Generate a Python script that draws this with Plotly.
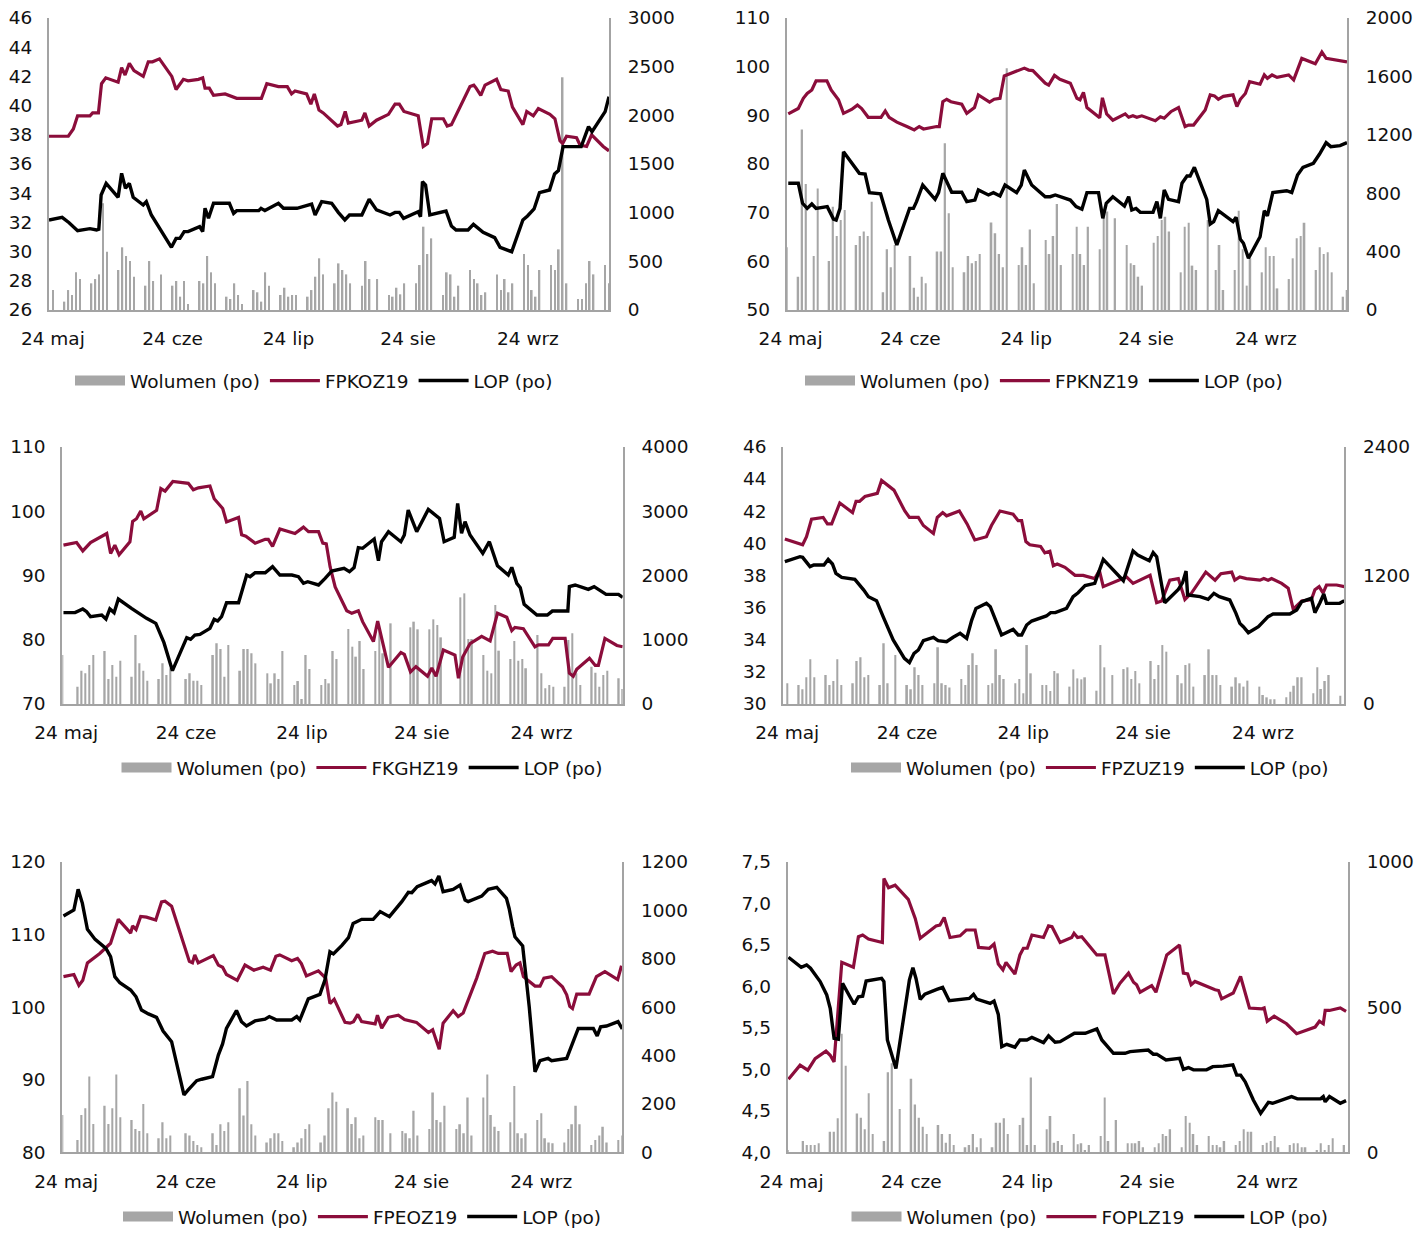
import pandas as pd
import plotly.graph_objects as go

# ---------------- DATA ----------------
# x values are days counted from 23 May 2019
BASE_DATE = pd.Timestamp("2019-05-23")
X_RANGE = ["2019-05-23", "2019-10-15"]
TICK_DATES = ["2019-05-24", "2019-06-24", "2019-07-24", "2019-08-24", "2019-09-24"]
TICK_TEXT = ["24 maj", "24 cze", "24 lip", "24 sie", "24 wrz"]
VOLUME_NAME = "Wolumen (po)"
LOP_NAME = "LOP (po)"

# ---- FPKOZ19 ----
fpkoz19 = [(0,37.9),(5,37.9),(6.3,38.4),(7.4,39.3),(10.6,39.3),(11.3,39.5),(12.8,39.5),(13.6,41.5),(14.7,41.9),(17.9,41.6),(18.8,42.6),(19.7,42.1),(20.8,42.9),(22,42.4),(24.4,42.0),(25.7,43.0),(26.8,43.0),(28.6,43.2),(31.8,42.0),(32.9,41.1),(34.8,41.8),(36,41.7),(38.7,41.8),(39.8,41.9),(40.4,41.2),(41.5,41.2),(42.6,40.7),(45.6,40.8),(48.6,40.5),(55,40.5),(56.4,41.5),(59.4,41.3),(61.7,41.3),(62.8,40.8),(63.7,41.0),(66.7,40.8),(67.8,40.1),(68.7,40.8),(69.9,39.7),(71,39.5),(74.7,38.6),(75.6,38.7),(76.7,39.6),(77.5,38.8),(81,39.0),(81.8,39.5),(82.9,38.6),(84.8,39.0),(87.9,39.4),(89.6,40.1),(90.7,40.1),(91.9,39.6),(95.6,39.3),(96.9,37.2),(98,37.4),(99.1,39.1),(102.1,39.1),(103.1,38.6),(104.2,38.7),(109,41.3),(110,41.4),(110.6,41.2),(111.8,40.7),(112.9,41.4),(115.9,41.8),(117,41.1),(118.9,41.0),(120,39.9),(122.7,38.7),(123.7,39.6),(125.4,39.3),(126.7,39.8),(129.7,39.4),(131,39.1),(132.3,37.6),(133,37.4),(134,37.9),(136.6,37.8),(137.5,37.3),(139.2,37.2),(140.5,38.0),(143.5,37.2),(145,36.9)]
lop_fpkoz19 = [(0,925),(3.4,952),(5.2,897),(7.4,815),(10.6,836),(12.3,822),(12.9,830),(13.5,1182),(14.8,1301),(17.9,1158),(18.8,1404),(19.8,1250),(20.8,1301),(21.8,1158),(24.4,1079),(25.2,1113),(26.5,976),(31.7,644),(32.9,736),(33.9,736),(35,805),(36,805),(39,856),(39.8,805),(40.4,1045),(41.3,942),(42.6,1096),(46.7,1096),(47.8,993),(48.6,1021),(54.3,1021),(54.9,1045),(55.9,1021),(59.4,1096),(60.7,1045),(64.2,1045),(68,1089),(68.9,976),(70.6,1113),(73.2,1096),(74.9,1003),(76.6,925),(77.8,976),(81,976),(82.9,1137),(84.8,1028),(88.3,976),(89.6,1003),(90.7,1003),(91.8,942),(95.6,1010),(96.2,959),(96.7,1319),(97.5,1284),(98.6,976),(102.8,1017),(104.2,863),(105.4,822),(108.5,822),(109.9,880),(112.4,798),(115.4,743),(116.8,644),(119.8,599),(122.7,925),(123.9,966),(125.6,1038),(127,1206),(129.6,1233),(130.9,1397),(131.9,1432),(133.1,1678),(137.8,1678),(139.7,1884),(140.6,1832),(144,2038),(145,2192)]
vol_fpkoz19 = [(1,205),(4,86),(5,205),(6,154),(7,387),(8,318),(11,274),(12,318),(13,366),(14,1096),(15,599),(18,411),(19,644),(20,555),(21,503),(22,342),(25,250),(26,503),(27,298),(29,366),(32,250),(33,298),(34,137),(35,298),(36,62),(39,298),(40,274),(41,555),(42,387),(43,274),(46,137),(47,113),(48,274),(49,154),(50,62),(53,205),(54,182),(55,86),(56,387),(57,250),(60,154),(61,229),(62,137),(63,154),(64,154),(67,137),(68,205),(69,342),(70,531),(71,366),(74,274),(75,479),(76,411),(77,366),(78,274),(81,250),(82,503),(83,318),(85,318),(88,154),(89,137),(90,229),(91,161),(92,274),(95,274),(96,462),(97,856),(98,575),(99,736),(102,154),(103,387),(104,366),(105,137),(106,250),(109,411),(110,318),(111,274),(112,154),(113,182),(116,366),(117,205),(118,318),(119,182),(120,274),(123,575),(124,462),(125,205),(126,137),(127,411),(130,462),(131,411),(132,623),(133,2391),(134,274),(137,113),(138,113),(139,274),(140,503),(141,366),(144,462),(145,274)]

# ---- FPKNZ19 ----
fpknz19 = [(0.4,90.3),(3,91.4),(4.3,93.5),(5.3,94.5),(6.5,95.2),(7.6,97.1),(10.4,97.1),(11.5,95.2),(13.4,93.2),(14.7,90.4),(16.8,91.2),(18.3,92.1),(19.4,91.4),(21.1,89.6),(24.4,89.6),(25.5,90.9),(26.5,89.6),(28.5,88.6),(31.1,87.7),(33,87.0),(34.3,87.7),(35.4,87.2),(38.8,87.7),(39.5,87.7),(40.4,92.8),(41.4,93.3),(42.5,92.8),(45.3,92.3),(46.6,90.4),(48.6,91.6),(49.6,94.2),(52.5,92.7),(53.7,93.3),(55.2,93.5),(56.3,98.1),(57.6,98.5),(59.5,99.2),(61.5,99.7),(62.6,99.3),(63.7,99.2),(66.9,96.6),(67.8,96.2),(69.3,98.2),(70.7,97.4),(73.4,96.6),(75.1,93.5),(75.9,93.2),(76.8,94.7),(77.7,91.6),(81,89.5),(81.7,93.6),(82.8,90.3),(84.4,89.0),(87.6,90.3),(88.5,89.6),(89.6,89.9),(90.6,89.6),(91.9,89.9),(95.4,88.9),(96.7,89.7),(97.7,89.4),(99.5,90.8),(101.4,91.6),(103.1,87.7),(104,88.0),(105.3,88.0),(108.3,91.1),(109.6,94.2),(110.7,94.0),(111.7,93.3),(113,93.9),(115.5,94.2),(116.5,91.8),(117.4,93.3),(118.7,94.5),(119.8,96.9),(122.5,96.4),(123.6,98.3),(124.4,97.6),(125.6,98.3),(126.9,97.8),(129.9,98.3),(131.2,97.3),(133.3,101.7),(136.8,100.6),(138.5,103.0),(139.6,101.7),(145,101.0)]
lop_fpknz19 = [(0.4,868),(3,868),(4.1,731),(5.3,696),(6.5,726),(7.6,696),(10.5,708),(12.1,623),(12.8,616),(13.8,696),(14.7,1084),(16.8,1004),(17.9,970),(18.8,936),(20.3,931),(21.4,804),(24.3,795),(25.5,680),(26.3,616),(28.5,445),(31.8,696),(32.8,696),(33.6,742),(35.2,856),(38.4,758),(39.3,804),(40.4,936),(42.7,806),(45.3,806),(46.6,742),(48.7,753),(49.6,822),(52.2,788),(53.5,804),(55.2,781),(56.5,856),(59.5,804),(60.7,856),(61.5,959),(63.4,856),(66.9,776),(68.2,776),(69.5,788),(73.4,753),(74.9,708),(76.4,690),(77.7,804),(80.7,804),(81.8,628),(82.7,731),(84.4,776),(87.4,712),(88.5,776),(89.3,685),(90.4,696),(91.5,669),(94.8,669),(95.8,742),(96.7,628),(97.7,822),(98.8,758),(101.4,742),(102.3,868),(103.6,918),(104.4,918),(105.5,977),(108.7,758),(109.6,589),(110.5,605),(111.7,680),(113.9,635),(115.5,605),(116.3,635),(117.4,484),(118.2,457),(119.5,354),(122.5,502),(123.6,680),(124.4,644),(125.8,804),(129.4,817),(130.7,804),(132.2,925),(133.6,977),(136.3,1005),(137.9,1068),(139.6,1146),(140.8,1119),(143.2,1126),(145,1146)]
vol_fpknz19 = [(0,429),(3,228),(4,1237),(5,863),(7,370),(8,833),(11,336),(12,708),(13,507),(14,616),(15,685),(18,445),(19,507),(20,537),(21,507),(22,742),(25,121),(26,416),(27,292),(28,445),(32,370),(33,153),(34,91),(35,228),(36,183),(39,400),(40,400),(41,1142),(42,662),(43,292),(46,258),(47,370),(48,320),(49,336),(50,384),(53,600),(54,525),(55,384),(56,292),(57,1655),(60,308),(61,429),(62,308),(63,552),(64,183),(67,479),(68,384),(69,507),(70,726),(71,308),(74,384),(75,571),(76,384),(77,308),(78,571),(81,416),(82,674),(83,674),(85,628),(88,445),(89,320),(90,308),(91,228),(92,167),(95,461),(96,507),(97,616),(98,639),(99,537),(102,258),(103,571),(104,598),(105,304),(106,274),(109,616),(111,274),(112,445),(113,137),(116,274),(117,680),(118,416),(119,167),(120,354),(123,258),(124,429),(125,370),(126,370),(127,148),(130,212),(131,354),(132,491),(133,507),(134,598),(137,274),(138,429),(139,384),(140,395),(141,258),(144,91),(145,137)]

# ---- FKGHZ19 ----
fkghz19 = [(0.3,94.7),(3.7,95.1),(5.3,93.8),(7.3,95.1),(11.5,96.5),(12.5,93.4),(13.6,94.7),(14.7,93.2),(17.5,95.2),(18.2,98.4),(19.2,98.8),(20.3,100.0),(21.1,98.8),(24.4,100.1),(25.5,103.5),(26.6,103.1),(28.6,104.6),(32.6,104.3),(33.9,103.3),(35.2,103.6),(38.2,103.9),(39.3,101.9),(41.5,100.4),(42.5,98.3),(45.6,99.0),(46.4,96.3),(47.5,96.1),(49.9,95.0),(52.5,95.6),(53.3,95.6),(54.4,94.5),(56.3,97.2),(60.2,96.5),(62.4,97.5),(63.7,96.8),(66.3,96.8),(67.4,95.0),(68.3,94.9),(69.3,91.3),(70.6,88.2),(73.6,84.5),(74.9,84.1),(76.6,84.5),(77.7,82.8),(80.5,79.7),(81.6,82.9),(84.4,75.7),(87.6,78.0),(88.5,77.7),(90.1,75.0),(91.5,75.8),(94.5,74.3),(95.6,75.6),(96.7,74.3),(98.6,78.4),(101.6,77.6),(102.5,74.0),(103.6,77.3),(105.5,79.4),(108.5,80.5),(110.7,79.8),(112.6,84.1),(115,83.5),(116.3,81.4),(117.1,81.9),(119.3,81.7),(122.3,78.9),(123.2,79.2),(125.8,79.2),(126.9,80.2),(130.1,80.2),(131.2,74.8),(132.2,74.3),(133.1,75.4),(136.4,77.1),(137.9,76.0),(138.7,76.0),(140.4,80.2),(143.5,79.1),(145,78.9)]
lop_fkghz19 = [(0.3,1420),(3.3,1420),(5.3,1477),(6.3,1435),(7.3,1357),(10.2,1383),(11.3,1321),(12.3,1477),(13.4,1420),(14.5,1632),(17.9,1487),(20.1,1399),(21.8,1332),(24.2,1254),(26.3,953),(28.5,518),(30.5,788),(32.2,1031),(33.2,1005),(34.3,1072),(35.6,1083),(38.2,1176),(39.3,1316),(40.2,1290),(41.2,1357),(42.5,1575),(45.6,1575),(47.7,2005),(48.6,1979),(49.9,2041),(52.5,2041),(54.4,2135),(56.3,2005),(59.4,2005),(61.1,1979),(62.4,1876),(63.5,1901),(66.3,1850),(68,1953),(69.7,2067),(72.9,2109),(74.3,2057),(75.5,2120),(76.6,2430),(77.7,2420),(80.7,2565),(81.8,2228),(82.6,2523),(84.4,2679),(87.6,2523),(88.5,2627),(89.5,3015),(91.7,2679),(94.7,3026),(97.6,2886),(98.8,2523),(101.4,2591),(102.3,3119),(103.3,2653),(104.2,2834),(105.5,2627),(108.8,2342),(110.5,2523),(112.6,2150),(115.4,2005),(116.3,2124),(117.6,1876),(118.5,1808),(119.5,1549),(122.8,1383),(125.5,1383),(126.8,1445),(130.8,1445),(131.2,1824),(132.7,1850),(136.1,1782),(137.6,1824),(139.1,1772),(140.7,1705),(143.9,1705),(145,1658)]
vol_fkghz19 = [(0,762),(4,269),(5,518),(6,477),(7,606),(8,762),(11,824),(12,389),(13,606),(14,425),(15,674),(18,425),(19,1072),(20,632),(21,518),(22,363),(25,389),(26,632),(27,451),(28,554),(32,389),(33,477),(34,363),(35,363),(36,295),(39,762),(40,943),(41,855),(42,425),(43,917),(46,518),(47,855),(48,855),(49,788),(50,632),(53,477),(54,321),(55,477),(56,389),(57,824),(60,295),(61,357),(62,78),(63,762),(64,544),(67,295),(68,389),(69,321),(70,824),(71,699),(74,1166),(75,891),(76,736),(77,979),(78,544),(81,824),(82,1166),(83,788),(85,1254),(90,1192),(91,1280),(92,1161),(95,1161),(96,1316),(97,1228),(98,1036),(103,1658),(104,1720),(105,1010),(106,1010),(109,762),(110,518),(111,477),(112,1539),(113,829),(116,699),(117,979),(118,674),(119,699),(120,554),(123,1072),(124,477),(125,243),(126,295),(127,269),(130,269),(131,995),(132,1098),(133,477),(134,295),(137,580),(138,487),(139,269),(140,451),(141,518),(144,399),(145,233)]

# ---- FPZUZ19 ----
fpzuz19 = [(0.4,40.26),(5,39.9),(6,40.4),(7.3,41.5),(10.3,41.6),(11.4,41.2),(12.5,41.2),(14.6,42.5),(17.9,41.9),(18.8,42.6),(19.7,42.6),(21.1,42.9),(24.3,43.1),(25.4,43.9),(28.6,43.3),(31.4,42.0),(32.6,41.6),(34.9,41.6),(36.2,41.1),(38.8,40.6),(39.8,41.6),(41.2,41.9),(42.2,41.7),(45.5,42.0),(47.5,41.2),(49.5,40.2),(52.5,40.4),(53.8,41.1),(56,42.0),(59.4,41.8),(60.7,41.4),(61.6,41.4),(62.7,40.1),(63.7,39.9),(66.5,39.8),(67.6,39.4),(68.9,39.5),(69.8,38.6),(70.8,38.7),(72.8,38.5),(75.4,38.0),(77.5,38.0),(80.5,37.8),(81.7,38.3),(82.7,37.3),(87,37.7),(88.7,37.9),(90.4,37.5),(94.8,38.0),(96.5,36.3),(97.8,36.4),(99.9,37.7),(102.1,37.8),(103.8,36.5),(105.5,36.9),(109.2,38.2),(111.6,37.7),(113.1,38.1),(115.9,38.2),(116.7,37.7),(118,37.9),(119.7,37.8),(123.2,37.7),(124.2,37.8),(125.3,37.7),(126.2,37.8),(128.8,37.5),(130.5,37.2),(131.8,35.9),(134,36.4),(136.5,36.5),(137.4,37.1),(138.5,37.3),(139.5,36.9),(140.4,37.4),(143,37.4),(145,37.3)]
lop_fpzuz19 = [(0.4,1328),(4.3,1374),(5,1368),(6.9,1281),(7.9,1297),(10.5,1297),(11.6,1349),(12.7,1306),(13.6,1219),(15.1,1181),(18.5,1163),(19.8,1110),(20.8,1063),(22,1001),(24.1,964),(25.8,815),(28.4,597),(31.3,426),(32.6,386),(33.8,473),(34.9,504),(36.2,591),(38.8,622),(40,591),(42.2,581),(43.9,622),(45.7,659),(47.4,612),(48.7,783),(49.8,892),(52.5,939),(53.5,908),(55.1,752),(56.4,644),(59.4,696),(60.7,644),(61.6,644),(62.9,737),(64.2,774),(67.2,808),(68,821),(69.1,852),(70.3,852),(73.2,892),(74.9,1001),(76.2,1038),(78,1104),(80.5,1125),(82.7,1349),(87.9,1150),(90.4,1427),(91.6,1390),(94.6,1337),(95.6,1412),(96.5,1374),(98.6,945),(102.1,1069),(103.2,1132),(104.1,1240),(104.5,1017),(107.7,1001),(109.8,976),(111.3,1032),(112.7,1001),(115.4,970),(117,846),(118,752),(118.9,721),(120.2,665),(122.8,721),(125.3,815),(126.6,839),(130.9,839),(132.7,877),(134,955),(136.5,986),(137.4,852),(138.7,945),(139.7,1026),(140.4,939),(143.8,939),(145,964)]
vol_fpzuz19 = [(1,193),(4,177),(5,137),(6,249),(7,417),(8,249),(11,270),(12,177),(13,215),(14,417),(15,177),(18,193),(19,401),(20,435),(21,249),(22,270),(25,177),(26,566),(27,193),(29,457),(32,177),(33,137),(34,342),(35,270),(36,177),(39,193),(40,529),(41,193),(42,177),(43,155),(46,233),(47,177),(48,364),(49,473),(50,364),(53,177),(54,193),(55,510),(56,270),(57,233),(60,193),(61,233),(62,100),(63,550),(64,286),(67,177),(68,177),(69,121),(70,308),(71,286),(74,162),(75,323),(76,239),(77,230),(78,249),(81,124),(82,550),(83,342),(85,270),(88,326),(89,342),(90,233),(91,308),(92,193),(95,401),(96,233),(97,364),(98,550),(99,488),(102,270),(103,193),(104,364),(105,379),(106,162),(109,270),(110,510),(111,270),(112,270),(113,177),(116,162),(117,249),(118,193),(119,162),(120,218),(123,162),(124,84),(125,62),(126,44),(127,44),(130,62),(131,115),(132,171),(133,249),(134,249),(137,100),(138,342),(139,140),(140,215),(141,270),(144,78)]

# ---- FPEOZ19 ----
fpeoz19 = [(0.3,104.2),(3,104.5),(4.3,103.0),(5.3,103.7),(6.5,106.1),(9.7,107.4),(12.5,108.8),(14.5,112.1),(17.7,110.2),(18.2,111.2),(19.1,110.7),(20.3,112.5),(21.8,112.4),(24.2,112.0),(25.7,114.5),(26.6,114.6),(28.3,113.9),(32.9,106.3),(33.7,106.1),(34.3,107.2),(35.2,106.1),(39.1,107.1),(40.4,105.8),(41.5,105.5),(42.5,104.5),(45.3,103.7),(47.3,105.8),(49.6,105.1),(52,105.5),(53.9,105.1),(55.3,107.0),(56.3,107.2),(59.4,106.4),(60.9,106.7),(61.9,106.0),(63.2,104.3),(66.3,105.0),(68.2,104.0),(69.3,100.5),(70.4,101.1),(73.2,97.9),(74.5,97.8),(75.4,98.0),(76.5,99.0),(77.5,98.0),(81,97.7),(81.6,98.9),(82.7,97.1),(84.4,98.6),(87,98.9),(88.6,98.3),(91.7,97.9),(94.8,96.5),(95.9,96.9),(97.6,94.2),(98.6,97.8),(101.2,99.5),(102.5,98.7),(103.8,99.2),(107.3,104.0),(109.4,107.4),(111.4,107.7),(112.9,107.4),(115.2,107.4),(116.2,104.9),(117.5,105.8),(118.5,106.1),(119.4,104.2),(122.4,102.9),(123.7,102.9),(124.7,104.0),(126.7,104.2),(129.5,102.8),(130.6,101.7),(131.4,100.1),(132.1,99.8),(133.2,101.8),(136.4,101.8),(138.3,104.2),(140.5,104.9),(143.8,103.8),(144.8,105.7)]
lop_fpeoz19 = [(0.3,977),(3,1002),(4.1,1087),(5.2,1029),(6.5,922),(8.5,880),(11.3,843),(12.5,809),(13.6,726),(14.9,701),(17.7,671),(19.1,643),(20.5,588),(22.3,572),(24.4,558),(26.1,501),(28.3,457),(30,340),(31.5,237),(32.6,258),(34.8,296),(36.1,302),(38.9,313),(40.4,402),(41.5,448),(42.5,512),(45.1,586),(46.4,540),(47.7,522),(49.9,543),(52.5,550),(53.6,561),(55.5,547),(59.4,547),(60.7,561),(61.5,547),(63.7,634),(66.7,653),(68,712),(69.3,829),(70.2,820),(72.4,855),(74.1,887),(75.3,946),(77.5,963),(80.5,963),(82.3,995),(84.7,974),(87.9,1036),(89.6,1075),(90.5,1073),(91.9,1098),(95.6,1123),(96.5,1109),(97.5,1142),(98.6,1077),(101.2,1087),(103,1105),(104.3,1043),(105.1,1036),(108.6,1059),(110.3,1087),(112.5,1095),(115,1050),(115.7,1008),(116.6,933),(117.2,891),(119.2,853),(120.9,602),(122.4,333),(123.7,379),(125.8,388),(126.7,379),(130.6,388),(132.3,464),(133.6,512),(137.5,512),(138.5,481),(139.4,519),(140.9,522),(143.9,540),(145,510)]
vol_fpeoz19 = [(0,154),(4,51),(5,154),(6,182),(7,313),(8,117),(11,192),(12,117),(13,182),(14,322),(15,145),(18,134),(19,96),(20,88),(21,200),(22,79),(25,58),(26,124),(27,58),(28,69),(32,79),(33,69),(34,47),(35,30),(36,21),(39,79),(40,30),(41,116),(42,88),(43,124),(46,265),(47,152),(48,295),(49,116),(50,69),(53,40),(54,58),(55,79),(56,79),(57,47),(60,21),(61,40),(62,58),(63,96),(64,116),(67,40),(68,69),(69,182),(70,247),(71,209),(74,182),(75,117),(76,145),(77,58),(78,69),(81,145),(82,134),(83,134),(85,79),(88,88),(89,79),(90,58),(91,172),(92,69),(95,96),(96,247),(97,134),(98,124),(99,192),(102,96),(103,116),(104,79),(105,227),(106,69),(109,227),(110,322),(111,154),(112,106),(113,88),(116,124),(117,274),(118,79),(119,58),(120,79),(123,134),(124,161),(125,58),(126,40),(127,37),(130,40),(131,96),(132,116),(133,192),(134,116),(137,30),(138,51),(139,69),(140,106),(141,40),(144,51),(145,69)]

# ---- FOPLZ19 ----
foplz19 = [(0.2,4.88),(3.2,5.05),(5.2,4.99),(7.1,5.13),(9.9,5.22),(11,5.17),(12,5.09),(14,6.29),(17,6.23),(18.3,6.60),(19.4,6.62),(20.9,6.57),(24.5,6.53),(24.9,7.30),(26.1,7.19),(27.8,7.22),(31.2,7.05),(33,6.82),(34.3,6.58),(36,6.64),(38.4,6.73),(39.4,6.74),(40.5,6.83),(42,6.59),(44.6,6.61),(46.2,6.68),(48.5,6.68),(49.4,6.47),(52.2,6.46),(53.4,6.51),(54.5,6.27),(55.7,6.20),(56.5,6.29),(58.8,6.15),(60.1,6.38),(61,6.46),(62,6.46),(63.2,6.62),(66.2,6.59),(67.5,6.73),(68.4,6.72),(70.5,6.53),(73.5,6.59),(74.1,6.64),(75,6.59),(76.1,6.60),(80,6.38),(82.1,6.38),(84.3,5.91),(86,6.04),(88.2,6.16),(89.5,6.05),(90.3,6.02),(91.2,5.93),(94.2,6.01),(95.3,5.93),(98.1,6.38),(101.4,6.50),(102.4,6.16),(103.5,6.15),(104.4,6.02),(105.4,6.06),(108.4,6.00),(110.6,5.96),(111.5,5.95),(112.3,5.85),(115.3,5.92),(117.2,6.12),(119.5,5.74),(122.7,5.73),(123.3,5.74),(124.1,5.58),(125.9,5.64),(129.1,5.55),(131.7,5.43),(133.5,5.46),(136.5,5.51),(137.6,5.58),(138.6,5.55),(139.1,5.71),(140.2,5.71),(143,5.74),(144.5,5.70)]
lop_foplz19 = [(0.2,672),(3.5,637),(4.9,645),(5.9,634),(8.4,588),(10.1,542),(11,496),(12,393),(13.1,390),(14.2,582),(16.1,536),(17.2,510),(18.3,536),(19.4,538),(20.3,590),(24.3,599),(24.9,588),(25.8,387),(28,289),(29.8,450),(31.5,594),(32.4,636),(33.2,599),(34.3,527),(35.5,545),(38.6,561),(40.1,568),(41.8,522),(45.5,528),(47,530),(48.1,544),(48.9,528),(52.4,513),(53.4,521),(54.5,475),(55.4,364),(56.7,372),(58.8,362),(60.1,387),(61.9,387),(63.2,396),(66.2,378),(67.5,401),(69.2,379),(70.5,381),(72.6,396),(74.2,410),(77,410),(80,425),(81.3,387),(84.3,341),(87.3,341),(88.6,347),(93.3,352),(94.6,338),(95.5,338),(97.9,318),(101.4,324),(102.4,286),(103.7,292),(105,284),(108.4,284),(110,295),(112.7,297),(115.2,301),(116.2,266),(117.2,266),(118.4,243),(120.5,180),(122.4,134),(124.4,172),(125.5,169),(128.3,183),(130.4,192),(131.9,184),(136,184),(137.9,184),(138.6,192),(139.1,174),(140.2,192),(143,169),(144.5,178)]
vol_foplz19 = [(0,8),(4,39),(5,25),(6,25),(7,25),(8,31),(11,71),(12,71),(13,117),(14,408),(15,298),(18,134),(19,119),(20,79),(21,203),(22,63),(25,39),(26,276),(27,307),(29,149),(32,253),(33,165),(34,119),(35,88),(36,63),(39,94),(40,63),(41,33),(42,63),(43,25),(46,17),(47,25),(48,63),(49,17),(50,48),(53,17),(54,102),(55,102),(56,117),(57,63),(60,94),(61,119),(62,25),(63,258),(64,25),(67,79),(68,125),(69,33),(70,39),(71,25),(74,63),(75,28),(76,31),(77,8),(78,25),(81,56),(82,189),(83,39),(85,111),(88,31),(89,31),(90,31),(91,39),(92,17),(95,17),(96,31),(97,63),(98,56),(99,79),(102,17),(103,125),(104,102),(105,63),(106,25),(109,56),(110,25),(111,25),(112,17),(113,39),(116,25),(117,39),(118,79),(119,71),(120,71),(123,25),(124,33),(125,39),(126,56),(127,17),(130,25),(131,31),(132,31),(133,17),(134,17),(137,8),(138,31),(139,8),(140,25),(141,48),(144,25)]

# ---------------- STYLE / LAYOUT ----------------
PAGE_W, PAGE_H = 1428, 1239
BODY_MARGIN = 8  # default page margin around the plot div
W, H = PAGE_W - 2 * BODY_MARGIN, PAGE_H - 2 * BODY_MARGIN
RED = "#8b0d3b"
GRAY_BAR = "#a6a6a6"
AXIS_GRAY = "#a3a3a3"
FONT = dict(family="DejaVu Sans", size=18.5, color="#111111")

panels = [
    dict(name="FPKOZ19", red=fpkoz19, lop=lop_fpkoz19, vol=vol_fpkoz19,
         left=(26, 46, 2), right=(0, 3000, 500), box=(49, 609, 18, 310), leg=(314, 381)),
    dict(name="FPKNZ19", red=fpknz19, lop=lop_fpknz19, vol=vol_fpknz19,
         left=(50, 110, 10), right=(0, 2000, 400), box=(786.7, 1347, 18, 310), leg=(1044, 381)),
    dict(name="FKGHZ19", red=fkghz19, lop=lop_fkghz19, vol=vol_fkghz19,
         left=(70, 110, 10), right=(0, 4000, 1000), box=(62.3, 622.7, 446.7, 704), leg=(362, 768)),
    dict(name="FPZUZ19", red=fpzuz19, lop=lop_fpzuz19, vol=vol_fpzuz19,
         left=(30, 46, 2), right=(0, 2400, 1200), box=(783.3, 1344.3, 446.7, 704), leg=(1090, 768)),
    dict(name="FPEOZ19", red=fpeoz19, lop=lop_fpeoz19, vol=vol_fpeoz19,
         left=(80, 120, 10), right=(0, 1200, 200), box=(62.3, 622.3, 862, 1152.3), leg=(362, 1217)),
    dict(name="FOPLZ19", red=foplz19, lop=lop_foplz19, vol=vol_foplz19,
         left=(4, 7.5, 0.5), right=(0, 1000, 500), box=(787.7, 1348, 862, 1152.3), leg=(1090, 1217),
         fmt=".1f"),
]


def to_xy(pairs):
    days = [p[0] for p in pairs]
    vals = [p[1] for p in pairs]
    return [BASE_DATE + pd.Timedelta(days=d) for d in days], vals


def ticks(lo, hi, step):
    out, v = [], lo
    while v <= hi + 1e-9:
        out.append(round(v, 6))
        v += step
    return out


def fx(px):
    return (px - BODY_MARGIN) / W


def fy(py):
    return 1 - (py - BODY_MARGIN) / H


fig = go.Figure()
layout = dict(width=W, height=H, autosize=False,
              margin=dict(l=0, r=0, t=0, b=0, pad=0, autoexpand=False),
              paper_bgcolor="white", plot_bgcolor="white", font=FONT,
              separators=", ", showlegend=True)

for i, p in enumerate(panels):
    xid = "" if i == 0 else str(i + 1)
    yb, yr, yl = 3 * i + 1, 3 * i + 2, 3 * i + 3
    ybs = "" if yb == 1 else str(yb)
    lg = "legend" if i == 0 else f"legend{i + 1}"
    x0, x1, ytop, ybot = p["box"]

    vx, vy = to_xy(p["vol"])
    fig.add_trace(go.Bar(x=vx, y=vy, xaxis="x" + xid, yaxis="y" + ybs, marker=dict(color=GRAY_BAR, line=dict(width=0)),
                         width=0.42 * 86400000, showlegend=False, name=VOLUME_NAME, legend=lg, hoverinfo="skip"))
    # legend entry for the volume bars
    fig.add_trace(go.Scatter(x=[None], y=[None], xaxis="x" + xid, yaxis="y" + ybs, mode="lines",
                             line=dict(color=GRAY_BAR, width=11), name=VOLUME_NAME, legend=lg))
    rx, ry = to_xy(p["red"])
    fig.add_trace(go.Scatter(x=rx, y=ry, xaxis="x" + xid, yaxis=f"y{yr}", mode="lines",
                             line=dict(color=RED, width=3.2), name=p["name"], legend=lg))
    lx, ly = to_xy(p["lop"])
    fig.add_trace(go.Scatter(x=lx, y=ly, xaxis="x" + xid, yaxis=f"y{yl}", mode="lines",
                             line=dict(color="black", width=3.4), name=LOP_NAME, legend=lg))

    xdom = [fx(x0), fx(x1)]
    ydom = [fy(ybot), fy(ytop)]
    layout["xaxis" + xid] = dict(domain=xdom, anchor="y" + ybs, type="date", range=X_RANGE,
                                 tickmode="array", tickvals=TICK_DATES, ticktext=TICK_TEXT,
                                 showline=True, linecolor=AXIS_GRAY, linewidth=2, showgrid=False,
                                 zeroline=False, ticks="", ticklabelstandoff=11, tickfont=FONT,
                                 fixedrange=True, automargin=False, ticklabeloverflow="allow")
    rlo, rhi, rst = p["right"]
    llo, lhi, lst = p["left"]
    layout["yaxis" + ybs] = dict(domain=ydom, anchor="x" + xid, side="right", range=[rlo, rhi],
                                 tickmode="array", tickvals=ticks(rlo, rhi, rst),
                                 showline=True, linecolor=AXIS_GRAY, linewidth=2, showgrid=False,
                                 zeroline=False, ticks="", ticklabelstandoff=13, tickfont=FONT,
                                 automargin=False, ticklabeloverflow="allow")
    layout[f"yaxis{yr}"] = dict(anchor="x" + xid, overlaying="y" + ybs, side="left", range=[llo, lhi],
                                tickmode="array", tickvals=ticks(llo, lhi, lst), tickformat=p.get("fmt", ""),
                                showline=True, linecolor=AXIS_GRAY, linewidth=2, showgrid=False,
                                zeroline=False, ticks="", ticklabelstandoff=11, tickfont=FONT,
                                automargin=False, ticklabeloverflow="allow")
    layout[f"yaxis{yl}"] = dict(anchor="x" + xid, overlaying="y" + ybs, side="right", range=[rlo, rhi],
                                visible=False, showgrid=False, zeroline=False)
    lx_c, ly_c = p["leg"]
    layout[lg] = dict(orientation="h", x=fx(lx_c), y=fy(ly_c), xanchor="center", yanchor="middle",
                      font=FONT, bgcolor="rgba(0,0,0,0)", itemwidth=50, tracegroupgap=0)

fig.update_layout(**layout)
fig.write_html("out.html")
